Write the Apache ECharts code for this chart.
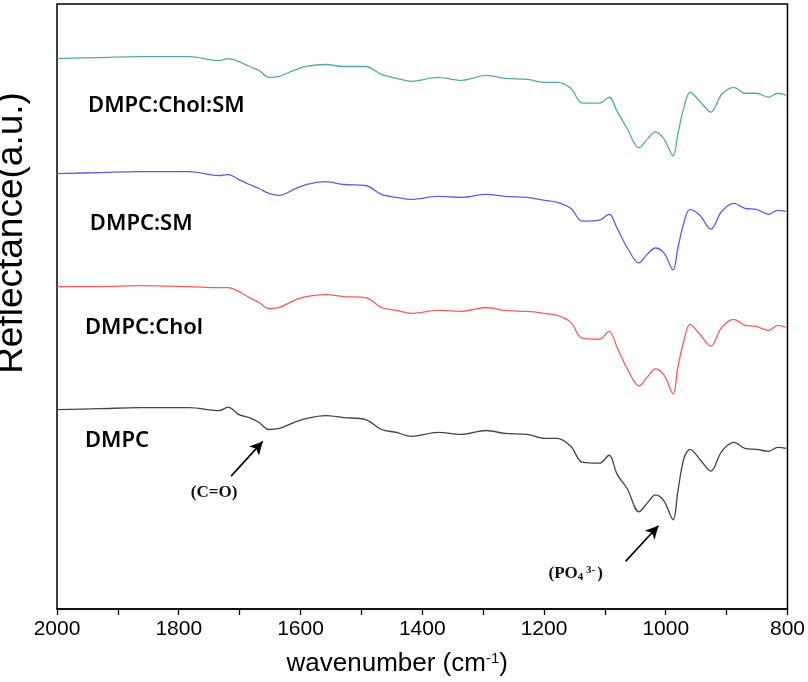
<!DOCTYPE html>
<html>
<head>
<meta charset="utf-8">
<script src="https://cdn.jsdelivr.net/npm/echarts@6/dist/echarts.min.js"></script>
<style>
  html, body { margin: 0; padding: 0; background: #fff; }
  #chart { width: 808px; height: 682px; }
</style>
</head>
<body>
<div id="chart"></div>
<script>
// wavenumber (cm-1) sample points
const wavenumber = [2000,1930,1864,1783,1734,1719,1701,1684,1668,1652,1635,1611,1591,1559,1529,1493,1467,1442,1418,1374,1336,1295,1264,1227,1199,1178,1156,1137,1109,1093,1080,1063,1044,1030,1017,1003,988,980,970,960,944,926,908,888,870,851,831,816,802]

// reflectance (a.u., spectra stacked with offsets)
const dmpc = [201,202,203,203,200,203.5,196,193,188,181,182,188,192,195,193,191,181,178,174,178,176,180,177,176,172,172,164,148,147,155,136,121,98,107,115,109,90,119,152,161,151,139,159,168,162,161,159,163,162]
const dmpcChol = [325,325,326,325,324,324,320,314,309,303,304,311,315,317,315,314,304,301,298,301,300,304,301,300,298,296,289,273,272,280,264,242,225,234,242,236,217,244,271,287,277,265,284,292,286,285,281,286,284]
const dmpcSm = [439,440,441,441,437,438,433,428,424,419,417,423,428,431,428,427,418,415,413,416,415,418,416,415,412,410,404,391,392,398,384,364,349,358,364,359,342,364,390,403,397,383,401,409,404,403,398,402,401]
const dmpcCholSm = [555,556,557,557,553,555,552,547,543,536,537,543,547,549,547,547,539,535,532,536,533,538,535,534,531,531,525,510,510,516,502,484,465,474,481,474,457,479,506,521,512,501,519,526,520,520,516,520,518]

const seriesNames = ['DMPC', 'DMPC:Chol', 'DMPC:SM', 'DMPC:Chol:SM']
const seriesColors = ['#444444', '#ff5a5a', '#5a5aff', '#52aaa8']
// where each name label sits [wavenumber, a.u.]
const nameLabelAt = [[1954, 170], [1954, 284], [1946, 388], [1949, 507]]

// arrows [from, to] and their captions
const arrows = [[[1714, 134], [1662, 169]], [[1066, 48], [1012, 84]]]
const captions = [{ at: [1742, 117], text: '{a|(C=O)}' }, { at: [1148, 36], text: '{a|(PO}{sub|4}{sup| 3-}{a|)}' }]

const xTicks = { min: 800, max: 2000, step: 200 }

const chart = echarts.init(document.getElementById('chart'))

const allValues = [dmpc, dmpcChol, dmpcSm, dmpcCholSm]

const captionRich = {
  a: { fontFamily: 'Liberation Serif', fontWeight: 'bold', fontSize: 17, color: '#111' },
  sub: { fontFamily: 'Liberation Serif', fontWeight: 'bold', fontSize: 11, color: '#111', verticalAlign: 'bottom', padding: [7, 0, 0, 0] },
  sup: { fontFamily: 'Liberation Serif', fontWeight: 'bold', fontSize: 11, color: '#111', verticalAlign: 'top', padding: [0, 2, 7, 0] }
}

const series = allValues.map((vals, i) => {
  const s = {
    name: seriesNames[i],
    type: 'line',
    data: wavenumber.map((w, k) => [w, vals[k]]),
    smooth: 0.35,
    showSymbol: false,
    lineStyle: { color: seriesColors[i], width: 1.3 },
    itemStyle: { color: seriesColors[i] },
    silent: true,
    markPoint: {
      symbol: 'circle',
      symbolSize: 0,
      silent: true,
      label: {
        show: true,
        position: 'right',
        distance: 0,
        color: '#000',
        fontFamily: 'Noto Sans',
        fontWeight: 600,
        fontSize: 22,
        formatter: seriesNames[i]
      },
      data: [{ coord: nameLabelAt[i] }]
    }
  }
  if (i === 0) {
    s.markLine = {
      silent: true,
      symbol: ['none', 'arrow'],
      symbolSize: [10, 13],
      lineStyle: { color: '#000', width: 1.6, type: 'solid' },
      label: { show: false },
      data: arrows.map(a => [{ coord: a[0] }, { coord: a[1] }])
    }
    s.markPoint.data.push(...captions.map(c => ({
      coord: c.at,
      label: {
        show: true,
        position: 'inside',
        formatter: c.text,
        rich: captionRich
      }
    })))
  }
  return s
})

const option = {
  animation: false,
  backgroundColor: '#fff',
  grid: {
    left: 57, right: 16, top: 4, bottom: 68,
    show: true,
    borderColor: '#000',
    borderWidth: 1.5,
    containLabel: false
  },
  xAxis: {
    type: 'value',
    inverse: true,
    min: xTicks.min,
    max: xTicks.max,
    interval: xTicks.step,
    name: 'wavenumber (cm{sup|-1})',
    nameLocation: 'middle',
    nameGap: 42,
    nameTextStyle: {
      fontFamily: 'Liberation Sans',
      fontSize: 26,
      color: '#000',
      padding: [0, 50, 0, 0],
      rich: {
        sup: { fontFamily: 'Liberation Sans', fontSize: 15, color: '#000', verticalAlign: 'top', padding: [0, 0, 10, 0] }
      }
    },
    axisLine: { show: true, lineStyle: { color: '#000', width: 1.5 } },
    axisTick: { show: true, inside: false, length: 6, lineStyle: { color: '#000', width: 1.3 } },
    minorTick: { show: true, splitNumber: 2, length: 6, lineStyle: { color: '#000', width: 1.3 } },
    splitLine: { show: false },
    axisLabel: {
      fontFamily: 'Liberation Sans',
      fontSize: 21,
      color: '#000',
      margin: 10,
      formatter: v => String(v)
    }
  },
  yAxis: {
    type: 'value',
    min: 0,
    max: 610,
    axisLine: { show: false },
    axisTick: { show: false },
    axisLabel: { show: false },
    splitLine: { show: false }
  },
  graphic: [{
    type: 'text',
    x: 30,
    y: 233,
    rotation: Math.PI / 2,
    style: {
      text: 'Reflectance(a.u.)',
      fontFamily: 'Liberation Sans',
      fontSize: 37,
      fill: '#000',
      textAlign: 'center',
      textVerticalAlign: 'bottom'
    }
  }],
  series: series
}

chart.setOption(option)
</script>
</body>
</html>
